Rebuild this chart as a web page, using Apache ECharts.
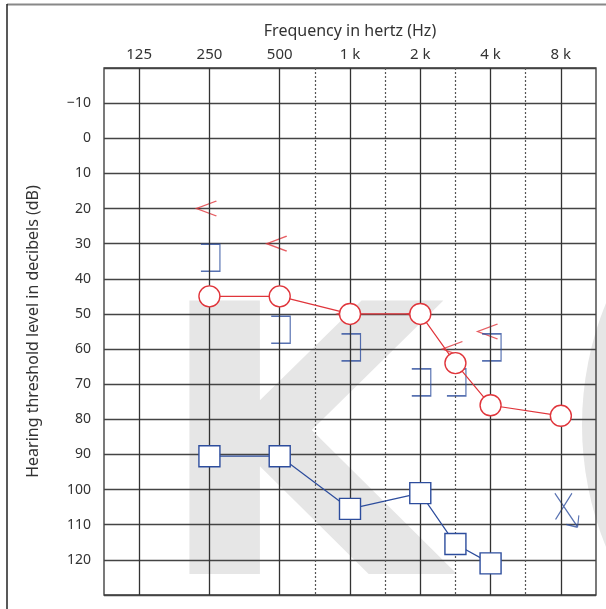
<!DOCTYPE html>
<html>
<head>
<meta charset="utf-8">
<script src="https://cdn.jsdelivr.net/npm/echarts@6/dist/echarts.min.js"></script>
<style>
html,body{margin:0;padding:0;background:#fff;}
#chart{width:606px;height:609px;}
</style>
</head>
<body>
<div id="chart"></div>
<script>
// ---- data ----
const octaveFreqs = [125, 250, 500, 1000, 2000, 4000, 8000];
const octaveLabels = ['125', '250', '500', '1 k', '2 k', '4 k', '8 k'];
const interOctaveFreqs = [750, 1500, 3000, 6000];

const rightAirFreq = [250, 500, 1000, 2000, 3000, 4000, 8000];
const rightAirDb   = [45, 45, 50, 50, 64, 76, 79];

const leftAirFreq = [250, 500, 1000, 2000, 3000, 4000];
const leftAirDb   = [90.5, 90.5, 105.5, 101, 115.5, 121];

const rightBoneFreq = [250, 500, 1000, 2000, 3000, 4000];
const rightBoneDb   = [20, 30, 50, 50, 60, 55];

const leftBoneFreq = [250, 500, 1000, 2000, 3000, 4000];
const leftBoneDb   = [34, 54.5, 59.5, 69.5, 69.5, 59.5];

const leftNoRespFreq = [8000];
const leftNoRespDb   = [105];

// audiogram column positions (half-octave steps)
const freqPos = {125:1, 250:3, 500:5, 750:6, 1000:7, 1500:8, 2000:9, 3000:10, 4000:11, 6000:12, 8000:13};
const posLabel = {};
octaveFreqs.forEach((f, i) => { posLabel[freqPos[f]] = octaveLabels[i]; });

const pts = (fs, ds) => fs.map((f, i) => [freqPos[f], ds[i]]);

const RED = '#e0353b';
const BLUE = '#2d4d9d';
const FONT = '"Noto Sans", "DejaVu Sans", sans-serif';

const chart = echarts.init(document.getElementById('chart'), null, {renderer: 'canvas'});

const option = {
  animation: false,
  backgroundColor: '#fff',
  graphic: [
    { type: 'text', z: -10, left: 155, top: 289,
      style: { text: 'K', font: 'bold 375px "DejaVu Sans"', fill: '#e6e6e6' } },
    { type: 'circle', z: -10, shape: { cx: 904, cy: 425, r: 322 }, style: { fill: '#e6e6e6' } },
    { type: 'line', z: 10, shape: { x1: 7, y1: 4.5, x2: 606, y2: 4.5 }, style: { stroke: '#888', lineWidth: 2 } },
    { type: 'line', z: 10, shape: { x1: 7, y1: 4, x2: 7, y2: 609 }, style: { stroke: '#222', lineWidth: 1.5 } }
  ],
  grid: {
    left: 104, top: 68, right: 10, bottom: 14,
    show: true, borderColor: '#333', borderWidth: 1.3, backgroundColor: 'transparent'
  },
  xAxis: {
    type: 'value', position: 'top', min: 0, max: 14, interval: 1,
    axisLine: { show: false }, axisTick: { show: false }, splitLine: { show: false },
    axisLabel: {
      margin: 6, fontSize: 15, color: '#333', fontFamily: FONT,
      formatter: v => posLabel[v] || ''
    },
    name: 'Frequency in hertz (Hz)', nameLocation: 'middle', nameGap: 29,
    nameTextStyle: { fontSize: 16, color: '#333', fontFamily: FONT }
  },
  yAxis: {
    type: 'value', inverse: true, min: -20, max: 130, interval: 10,
    axisLine: { show: false }, axisTick: { show: false },
    splitLine: { show: true, lineStyle: { color: '#444', width: 1.3 } },
    axisLabel: {
      margin: 13, fontSize: 14, color: '#333', fontFamily: FONT,
      formatter: v => (v === -20 || v === 130) ? '' : (v < 0 ? '\u2212' + (-v) : String(v))
    },
    name: 'Hearing threshold level in decibels (dB)', nameLocation: 'middle', nameGap: 63,
    nameTextStyle: { fontSize: 16, color: '#333', fontFamily: FONT }
  },
  series: [
    { type: 'line', data: [], silent: true,
      markLine: { silent: true, symbol: ['none', 'none'], label: { show: false },
        lineStyle: { color: '#333', width: 1.3, type: 'solid' },
        data: octaveFreqs.map(f => ({ xAxis: freqPos[f] })) } },
    { type: 'line', data: [], silent: true,
      markLine: { silent: true, symbol: ['none', 'none'], label: { show: false },
        lineStyle: { color: '#555', width: 1.2, type: [2, 2] },
        data: interOctaveFreqs.map(f => ({ xAxis: freqPos[f] })) } },
    { name: 'Right bone', type: 'scatter', z: 3,
      data: pts(rightBoneFreq, rightBoneDb),
      symbol: 'path://M20,0 L0,8 L20,16', symbolSize: [20, 15], symbolOffset: [-3, 0],
      itemStyle: { color: 'rgba(0,0,0,0)', borderColor: RED, borderWidth: 1.4 } },
    { name: 'Left bone', type: 'scatter', z: 3,
      data: pts(leftBoneFreq, leftBoneDb),
      symbol: 'path://M0,0 L14,0 L14,27 L0,27', symbolSize: [19, 27], symbolOffset: [1, 0],
      itemStyle: { color: 'rgba(0,0,0,0)', borderColor: BLUE, borderWidth: 1.4 } },
    { name: 'Left no response', type: 'scatter', z: 3,
      data: pts(leftNoRespFreq, leftNoRespDb),
      symbol: 'path://M0,0 L23,34 M17.3,0 L0.7,26.6 M11.7,31.6 L23,34.3 M24.3,22.3 L23,34.3',
      symbolSize: [24, 34], symbolOffset: [6, 3],
      itemStyle: { color: 'rgba(0,0,0,0)', borderColor: BLUE, borderWidth: 1.3 } },
    { name: 'Right air', type: 'line', z: 5,
      data: pts(rightAirFreq, rightAirDb),
      symbol: 'circle', symbolSize: 21,
      itemStyle: { color: '#fff', borderColor: RED, borderWidth: 1.4 },
      lineStyle: { color: RED, width: 1.2 } },
    { name: 'Left air', type: 'line', z: 5,
      data: pts(leftAirFreq, leftAirDb),
      symbol: 'rect', symbolSize: 21,
      itemStyle: { color: '#fff', borderColor: BLUE, borderWidth: 1.4 },
      lineStyle: { color: BLUE, width: 1.2 } }
  ]
};
chart.setOption(option);
</script>
</body>
</html>
